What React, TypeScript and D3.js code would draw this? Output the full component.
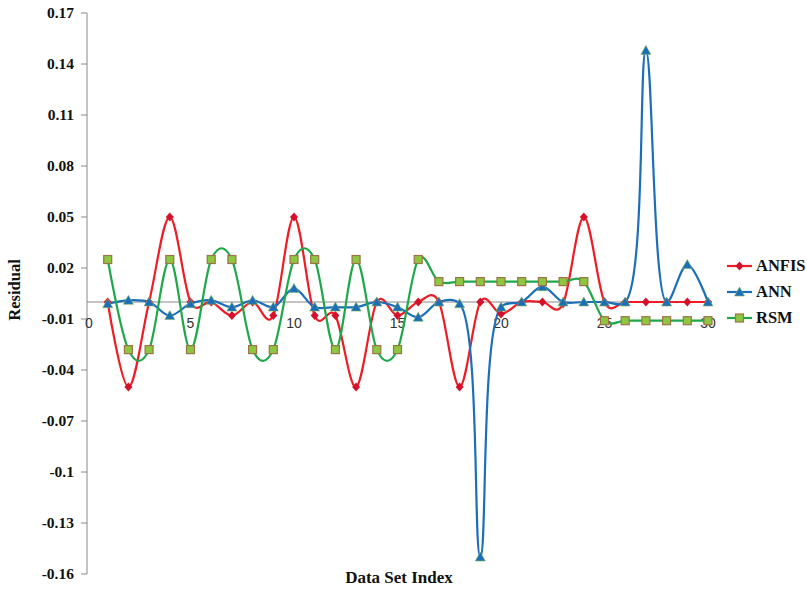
import React from 'react';
import * as d3 from 'd3';

const indices = d3.range(1, 31);
const anfis = [0, -0.05, 0, 0.05, 0, 0, -0.008, 0, -0.008, 0.05, -0.008, -0.008, -0.05, 0, -0.008, 0, 0, -0.05, 0, -0.007, 0, 0, -0.001, 0.05, 0, 0, 0, 0, 0, 0];
const ann = [-0.001, 0.001, 0, -0.008, -0.001, 0.001, -0.003, 0.001, -0.003, 0.008, -0.003, -0.003, -0.003, 0, -0.003, -0.009, 0, -0.001, -0.15, -0.003, 0, 0.009, 0, 0, 0, 0, 0.148, 0, 0.022, 0];
const rsm = [0.025, -0.028, -0.028, 0.025, -0.028, 0.025, 0.025, -0.028, -0.028, 0.025, 0.025, -0.028, 0.025, -0.028, -0.028, 0.025, 0.012, 0.012, 0.012, 0.012, 0.012, 0.012, 0.012, 0.012, -0.011, -0.011, -0.011, -0.011, -0.011, -0.011];
const yTicks = [0.17, 0.14, 0.11, 0.08, 0.05, 0.02, -0.01, -0.04, -0.07, -0.1, -0.13, -0.16];
const xTicks = [0, 5, 10, 15, 20, 25, 30];

// ANN uses centripetal smoothing so the big spikes don't overshoot like Excel
const seriesList = [
  { name: 'ANFIS', values: anfis, color: '#ee1c24', marker: 'diamond', curve: d3.curveCardinal.tension(0) },
  { name: 'ANN', values: ann, color: '#1b6fb8', marker: 'triangle', curve: d3.curveCatmullRom.alpha(0.5) },
  { name: 'RSM', values: rsm, color: '#1fa84a', marker: 'square', curve: d3.curveCardinal.tension(0) },
];

const x = d3.scaleLinear().domain([0, 30]).range([87, 708]);
const y = d3.scaleLinear().domain([-0.16, 0.17]).range([574, 13]);

const serif = '"Liberation Serif", "Times New Roman", serif';

function Marker({ kind, cx, cy }: { kind: string; cx: number; cy: number }) {
  if (kind === 'diamond') {
    return <path d={`M${cx},${cy - 4.5}L${cx + 4},${cy}L${cx},${cy + 4.5}L${cx - 4},${cy}Z`} fill="#d4102a" />;
  }
  if (kind === 'triangle') {
    return <path d={`M${cx},${cy - 5}L${cx + 5},${cy + 4}L${cx - 5},${cy + 4}Z`} fill="#1b6fb8" stroke="#7fb65a" strokeWidth={0.6} />;
  }
  return <rect x={cx - 4} y={cy - 4} width={8} height={8} fill="#8dc63f" stroke="#9c7448" strokeWidth={1.2} />;
}

export default function App() {
  return (
    <svg width={807} height={593} style={{ position: 'absolute', left: 0, top: 0, background: '#fff' }}>
      {/* zero line */}
      <line x1={87} x2={712} y1={y(0)} y2={y(0)} stroke="#8a8a8a" strokeWidth={1} />
      {/* y axis */}
      <line x1={87} x2={87} y1={13} y2={574} stroke="#8a8a8a" strokeWidth={1} />
      {yTicks.map(t => (
        <g key={t}>
          <line x1={81} x2={87} y1={y(t)} y2={y(t)} stroke="#8a8a8a" />
          <text x={74} y={y(t) + 5} textAnchor="end" fontFamily={serif} fontWeight="bold" fontSize={15.5} fill="#111">{t}</text>
        </g>
      ))}
      {xTicks.map(t => (
        <text key={t} x={x(t) + (t === 0 ? 2 : 0)} y={328} textAnchor="middle" fontFamily='"Liberation Sans", Arial, sans-serif' fontSize={14} fill="#333">{t}</text>
      ))}
      {seriesList.map(s => {
        const line = d3.line<number>()
          .x((_, i) => x(indices[i]))
          .y(d => y(d))
          .curve(s.curve);
        return <path key={s.name} d={line(s.values) || ''} fill="none" stroke={s.color} strokeWidth={2.2} />;
      })}
      {seriesList.map(s => (
        <g key={s.name + '-m'}>
          {s.values.map((v, i) => (
            <Marker key={i} kind={s.marker} cx={x(indices[i])} cy={y(v)} />
          ))}
        </g>
      ))}
      <text x={20} y={290} transform="rotate(-90 20 290)" textAnchor="middle" fontFamily={serif} fontWeight="bold" fontSize={16.5} fill="#111">Residual</text>
      <text x={399} y={583} textAnchor="middle" fontFamily={serif} fontWeight="bold" fontSize={17} fill="#111">Data Set Index</text>
      {seriesList.map((s, i) => {
        const ly = 266 + i * 26;
        return (
          <g key={s.name + '-l'}>
            <line x1={727} x2={752} y1={ly} y2={ly} stroke={s.color} strokeWidth={2.2} />
            <Marker kind={s.marker} cx={739.5} cy={ly} />
            <text x={756} y={ly + 5} fontFamily={serif} fontWeight="bold" fontSize={16.5} fill="#111">{s.name}</text>
          </g>
        );
      })}
    </svg>
  );
}
